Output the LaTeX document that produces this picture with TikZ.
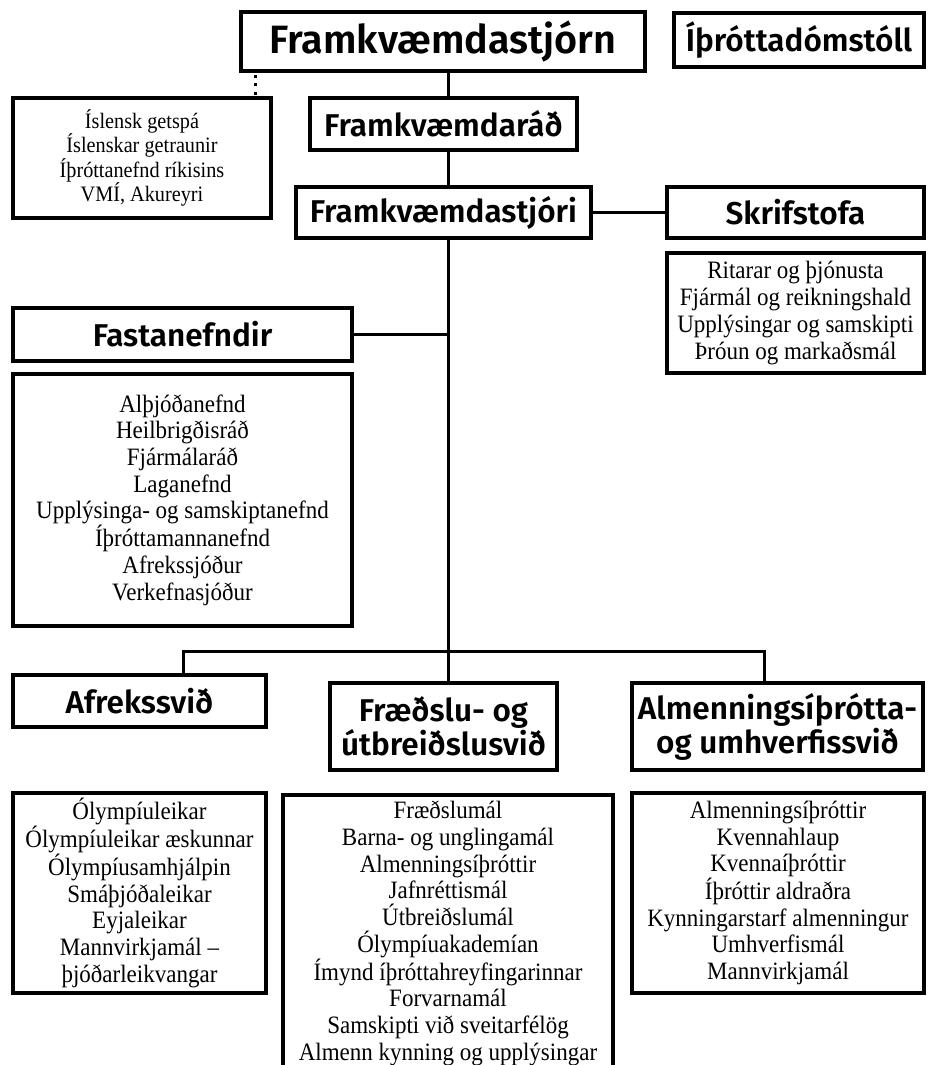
\documentclass[tikz,border=0pt]{standalone}
\usepackage{fontspec}
\setmainfont{Liberation Serif}[FakeStretch=0.92]
\newfontfamily\hf{Fira Sans SemiBold}
\begin{document}
\begin{tikzpicture}[x=1pt,y=-1pt,
  box/.style={draw,line width=3.5pt,rectangle,inner sep=0pt,align=center},
  head/.style={box,font=\hf\fontsize{31.5}{34}\selectfont},
  bighead/.style={box,font=\hf\fontsize{39.5}{40}\selectfont},
  list/.style={box,font=\fontsize{25}{26.7}\selectfont},
  conn/.style={line width=3pt},
  dotline/.style={line width=3pt,dash pattern=on 3pt off 5.5pt}]
\useasboundingbox[fill=white] (0,0) rectangle (933,1065);
% headings
\node[bighead,minimum width=404pt,minimum height=59pt] (stjorn) at (443,41.5) {Framkvæmdastjórn};
\node[head,minimum width=250pt,minimum height=54pt] (domstoll) at (799,40) {Íþróttadómstóll};
\node[head,minimum width=267pt,minimum height=52pt] (rad) at (443.5,124) {Framkvæmdaráð};
\node[head,minimum width=295pt,minimum height=51pt] (stjori) at (443.5,212.5) {Framkvæmdastjóri};
\node[head,minimum width=257pt,minimum height=51pt] (skrif) at (795.5,212.5) {Skrifstofa};
\node[head,minimum width=339pt,minimum height=53pt] (fasta) at (182.5,334.5) {Fastanefndir};
\node[head,minimum width=253pt,minimum height=52pt] (afrek) at (139.5,701) {Afrekssvið};
\node[head,minimum width=227pt,minimum height=87pt] (fraed) at (443.5,726.5) {Fræðslu- og\\útbreiðslusvið};
\node[head,minimum width=291pt,minimum height=87pt] (almenn) at (777.5,726.5) {Almenningsíþrótta-\\og umhverfissvið};
% lists
\node[box,font=\fontsize{22}{23.5}\selectfont,minimum width=258pt,minimum height=120pt] (islensk) at (142,158) {Íslensk getspá\\Íslenskar getraunir\\Íþróttanefnd ríkisins\\VMÍ, Akureyri};
\node[list,minimum width=257pt,minimum height=120pt] (skrifl) at (795.5,313) {Ritarar og þjónusta\\Fjármál og reikningshald\\Upplýsingar og samskipti\\Þróun og markaðsmál};
\node[list,minimum width=339pt,minimum height=252pt] (fastal) at (182.5,500) {Alþjóðanefnd\\Heilbrigðisráð\\Fjármálaráð\\Laganefnd\\Upplýsinga- og samskiptanefnd\\Íþróttamannanefnd\\Afrekssjóður\\Verkefnasjóður};
\node[list,minimum width=253pt,minimum height=200pt] (afrekl) at (139.5,893) {Ólympíuleikar\\Ólympíuleikar æskunnar\\Ólympíusamhjálpin\\Smáþjóðaleikar\\Eyjaleikar\\Mannvirkjamál --\\þjóðarleikvangar};
\node[list,minimum width=292pt,minimum height=200pt] (almennl) at (778,893) {Almenningsíþróttir\\Kvennahlaup\\Kvennaíþróttir\\Íþróttir aldraðra\\Kynningarstarf almenningur\\Umhverfismál\\Mannvirkjamál};
\node[list,minimum width=330pt,minimum height=290pt,anchor=north] (fraedl) at (448,793) {};
\node[font=\fontsize{25}{26.7}\selectfont,align=center,anchor=north,inner sep=0pt] (fraedt) at (448,801) {Fræðslumál\\Barna- og unglingamál\\Almenningsíþróttir\\Jafnréttismál\\Útbreiðslumál\\Ólympíuakademían\\Ímynd íþróttahreyfingarinnar\\Forvarnamál\\Samskipti við sveitarfélög\\Almenn kynning og upplýsingar};
% connectors
\coordinate (mx) at (448,0);
\draw[conn] (stjorn.south -| mx) -- (rad.north -| mx);
\draw[conn] (rad.south -| mx) -- (stjori.north -| mx);
\draw[conn] (stjori.south -| mx) -- (fraed.north -| mx);
\draw[conn] (stjori.east) -- (skrif.west);
\draw[conn] (fasta.east) -- (fasta.east -| mx);
\coordinate (ba) at (183,651);
\coordinate (bb) at (764,651);
\draw[conn] (ba |- afrek.north) -- (ba) -- (bb) -- (bb |- almenn.north);
\coordinate (d1) at (255,74.5);
\coordinate (d2) at (255,95);
\draw[dotline] (d1) -- (d2);
\end{tikzpicture}
\end{document}
